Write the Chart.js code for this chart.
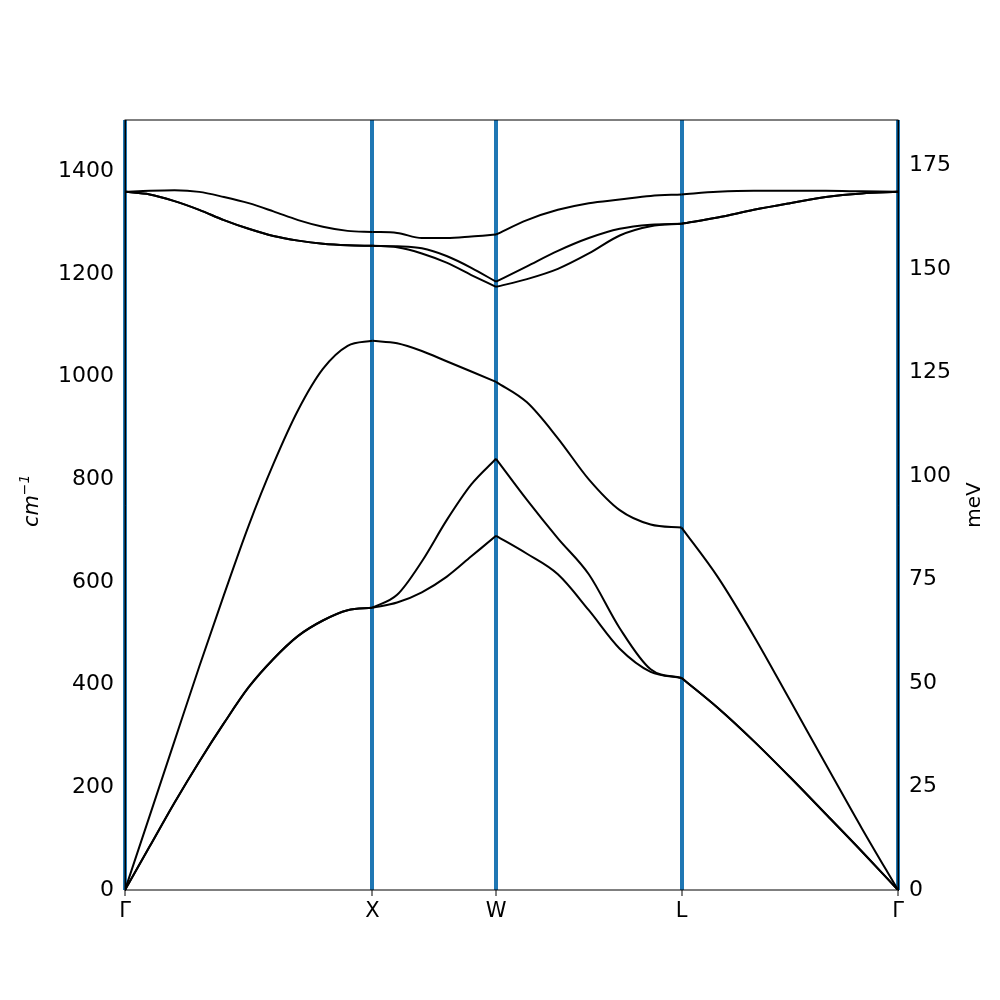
<!DOCTYPE html>
<html><head><script src="https://cdn.jsdelivr.net/npm/chart.js@4"></script>
<style>body{margin:0;background:#fff}#w{width:1000px;height:1000px}</style></head>
<body><div id="w"><canvas id="c"></canvas></div>
<script>
const tickLabels=["Γ","X","W","L","Γ"];
const tickPos=[0,1,1.5,2.25,3.125];
const leftTicks=[0,200,400,600,800,1000,1200,1400];
const rightTicks=[0,25,50,75,100,125,150,175];
const segX=[[0,0.1,0.2,0.3,0.4,0.5,0.6,0.7,0.8,0.9,1],[1,1.1,1.2,1.3,1.4,1.5],[1.5,1.625,1.75,1.875,2,2.125,2.25],[2.25,2.396,2.542,2.688,2.833,2.979,3.125]];
const ta1=[[0,85,170,250,325,395,450,495,525,545,550],[550,560,580,610,650,690],[690,655,615,545,470,425,413],[413,355,290,220,148,75,0]];
const ta2=[[0,85,170,250,325,395,450,495,525,545,550],[550,575,640,720,790,840],[840,760,685,615,510,430,413],[413,355,290,220,148,75,0]];
const la=[[0,145,290,435,575,710,830,935,1015,1060,1070],[1070,1065,1050,1030,1010,990],[990,950,880,800,740,712,706],[706,610,495,370,245,120,0]];
const opLow=[[1360,1355,1342,1325,1305,1288,1274,1265,1259,1256,1255],[1255,1252,1240,1222,1198,1175],[1175,1190,1210,1240,1275,1293,1298],[1298,1310,1325,1338,1350,1357,1360]];
const opMid=[[1360,1355,1342,1325,1305,1288,1274,1265,1259,1256,1255],[1255,1254,1250,1235,1212,1185],[1185,1215,1245,1270,1288,1296,1298],[1298,1310,1325,1338,1350,1357,1360]];
const opTop=[[1360,1362,1363,1360,1350,1338,1322,1305,1292,1284,1282],[1282,1280,1270,1270,1273,1277],[1277,1305,1325,1338,1345,1352,1355],[1355,1360,1362,1362,1362,1361,1360]];
const branches=[ta1,ta2,la,opLow,opMid,opTop];
const datasets=[];
branches.forEach(b=>b.forEach((seg,i)=>datasets.push({data:seg.map((v,j)=>({x:segX[i][j],y:v})),borderColor:'#000',borderWidth:2,pointRadius:0,tension:0.4,cubicInterpolationMode:'monotone',fill:false})));
const frame={id:'frame',afterDraw(c){const a=c.chartArea,x=c.ctx;x.save();x.strokeStyle='#000';x.lineWidth=1;x.strokeRect(a.left,a.top,a.right-a.left,a.bottom-a.top);
x.fillStyle='#000';x.textAlign='center';x.textBaseline='middle';
x.translate(33,505);x.rotate(-Math.PI/2);x.font='italic 21px DejaVu Sans';x.fillText('cm',-6,0);x.font='italic 14px DejaVu Sans';x.fillText('−1',20,-8);
x.setTransform(1,0,0,1,0,0);x.translate(975,505);x.rotate(-Math.PI/2);x.font='20px DejaVu Sans';x.fillText('meV',0,0);x.restore();}};
const ft={size:22,family:'DejaVu Sans'};
new Chart(document.getElementById('c'),{type:'line',data:{datasets},plugins:[frame],
options:{responsive:true,maintainAspectRatio:false,animation:false,devicePixelRatio:1,layout:{padding:{top:120,left:0,right:0,bottom:0}},
plugins:{legend:{display:false},tooltip:{enabled:false}},
scales:{
x:{type:'linear',min:0,max:3.125,afterBuildTicks(s){s.ticks=tickPos.map(v=>({value:v}));},
 ticks:{callback:(v,i)=>tickLabels[i],font:{size:21,family:'DejaVu Sans'},color:'#000',autoSkip:false,maxRotation:0},
 grid:{color:'#1f77b4',lineWidth:4,drawTicks:true,tickLength:6,tickColor:'#000',tickWidth:1},border:{display:false},afterFit(s){s.height=110;}},
y:{position:'left',min:0,max:1500,afterBuildTicks(s){s.ticks=leftTicks.map(v=>({value:v}));},ticks:{callback:v=>String(v),font:ft,color:'#000'},grid:{display:false},
 border:{color:'#000'},afterFit(s){s.width=125;}},
y2:{position:'right',min:0,max:1500/8.0655,afterBuildTicks(s){s.ticks=rightTicks.map(v=>({value:v}));},ticks:{callback:v=>String(v),font:ft,color:'#000'},grid:{display:false},
 border:{color:'#000'},afterFit(s){s.width=102;}}
}}});
</script></body></html>
